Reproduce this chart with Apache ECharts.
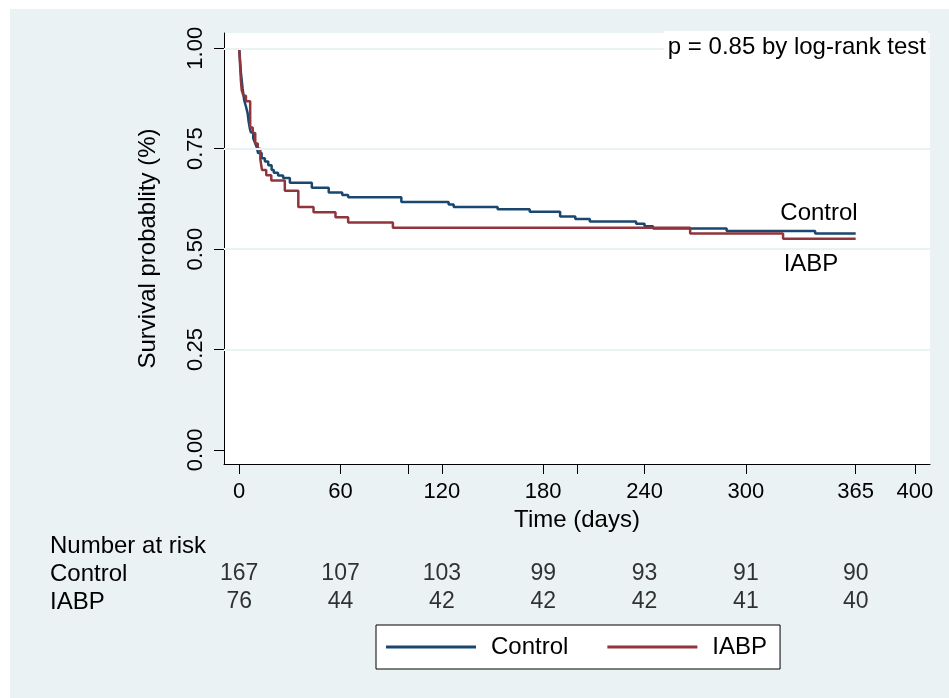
<!DOCTYPE html>
<html>
<head>
<meta charset="utf-8">
<script src="https://cdn.jsdelivr.net/npm/echarts@6/dist/echarts.min.js"></script>
<style>
  html, body { margin: 0; padding: 0; background: #fff; }
  #bg { position: absolute; left: 10px; top: 9px; width: 939px; height: 689px; background: #eaf2f3; }
  #chart { position: absolute; left: 0; top: 0; width: 949px; height: 698px; }
</style>
</head>
<body>
<div id="bg"></div>
<div id="chart"></div>
<script>
// Kaplan-Meier steps (day, survival after the event)
const controlTimes = [0, 0.5, 1, 1.5, 2, 2.5, 3, 4, 5, 5.5, 6.3, 7, 8.3, 9.3, 10.3, 11.2, 13.3, 15.2, 17.2, 19.2, 20.5, 23, 26, 30, 43, 53, 61, 64.5, 96, 124, 127, 153, 172, 190, 199, 207.6, 235, 240, 245, 288.6, 341, 365];
const controlSurv = [1.0, 0.97, 0.94, 0.92, 0.90, 0.885, 0.87, 0.855, 0.838, 0.82, 0.80, 0.79, 0.776, 0.765, 0.755, 0.739, 0.726, 0.718, 0.709, 0.697, 0.69, 0.683, 0.677, 0.665, 0.653, 0.641, 0.635, 0.629, 0.617, 0.611, 0.605, 0.599, 0.593, 0.581, 0.575, 0.569, 0.563, 0.557, 0.551, 0.545, 0.539, 0.539];
const iabpTimes = [0, 0.5, 1, 1.5, 2.5, 4, 6.5, 8, 9.5, 11, 12.5, 13.5, 16, 19, 27, 35, 44, 57, 64.5, 91, 267, 322, 365];
const iabpSurv = [1.0, 0.96, 0.92, 0.895, 0.882, 0.868, 0.803, 0.789, 0.763, 0.75, 0.724, 0.697, 0.684, 0.671, 0.645, 0.605, 0.592, 0.579, 0.566, 0.553, 0.539, 0.526, 0.526];

const riskTimes = [0, 60, 120, 180, 240, 300, 365];
const riskControl = [167, 107, 103, 99, 93, 91, 90];
const riskIabp = [76, 44, 42, 42, 42, 41, 40];
const groups = ['Control', 'IABP'];

const xTicks = [0, 60, 100, 120, 180, 200, 240, 300, 365, 400];
const xLabels = [0, 60, 120, 180, 240, 300, 365, 400];
const yTicks = [0, 0.25, 0.5, 0.75, 1];
const yGrid = [0.25, 0.5, 0.75, 1];

const FONT = '"Liberation Sans", Arial, Helvetica, sans-serif';
const BLUE = '#1a476f';
const RED = '#90353b';

const zip = (a, b) => a.map((v, i) => [v, b[i]]);
const riskData = [];
riskTimes.forEach((t, i) => {
  riskData.push([t, 'Control', riskControl[i]]);
  riskData.push([t, 'IABP', riskIabp[i]]);
});

const chart = echarts.init(document.getElementById('chart'));
chart.setOption({
  backgroundColor: 'transparent',
  animation: false,
  textStyle: { fontFamily: FONT, color: '#000' },
  grid: [
    { left: 224, top: 33, width: 706, height: 431, show: true, backgroundColor: '#fff', borderWidth: 0 },
    { left: 224, top: 560, width: 706, height: 56 }
  ],
  xAxis: [
    {
      type: 'value', gridIndex: 0, min: -9, max: 409,
      axisLine: { show: true, onZero: false, lineStyle: { color: '#000', width: 1 } },
      axisTick: { show: true, customValues: xTicks, length: 10, lineStyle: { color: '#000' } },
      axisLabel: { customValues: xLabels, fontSize: 22, color: '#000', margin: 17, fontFamily: FONT },
      splitLine: { show: false },
      name: 'Time (days)', nameLocation: 'middle', nameGap: 44,
      nameTextStyle: { fontSize: 24, color: '#000', fontFamily: FONT }
    },
    { type: 'value', gridIndex: 1, min: -9, max: 409, show: false }
  ],
  yAxis: [
    {
      type: 'value', gridIndex: 0, min: -0.035, max: 1.038,
      axisLine: { show: true, onZero: false, lineStyle: { color: '#000', width: 1 } },
      axisTick: { show: true, customValues: yTicks, length: 10, lineStyle: { color: '#000' } },
      axisLabel: {
        customValues: yTicks, rotate: 90, fontSize: 22, color: '#000', margin: 17, fontFamily: FONT,
        formatter: v => v.toFixed(2)
      },
      splitLine: { show: false },
      name: 'Survival probablity (%)', nameLocation: 'middle', nameGap: 64, nameRotate: 90,
      nameTextStyle: { fontSize: 24, color: '#000', fontFamily: FONT }
    },
    {
      type: 'category', gridIndex: 1, data: groups, inverse: true,
      axisLine: { show: false }, axisTick: { show: false },
      axisLabel: { interval: 0, align: 'left', margin: 174, fontSize: 24, color: '#000', fontFamily: FONT }
    }
  ],
  legend: {
    data: groups,
    left: 376, top: 625,
    icon: 'rect', itemWidth: 90, itemHeight: 3, itemGap: 39,
    backgroundColor: '#fff', borderColor: '#000', borderWidth: 1, borderRadius: 0,
    padding: [10, 13, 10, 10],
    textStyle: { fontSize: 24, color: '#000', fontFamily: FONT, padding: [0, 0, 0, 10] }
  },
  graphic: [
    { type: 'text', x: 50, y: 546, style: { text: 'Number at risk', fontSize: 24, fontFamily: FONT, fill: '#000', align: 'left', verticalAlign: 'middle' } },
    { type: 'text', x: 928, y: 47, z: 10, style: { text: 'p = 0.85 by log-rank test', fontSize: 24, fontFamily: FONT, fill: '#000', align: 'right', verticalAlign: 'middle', backgroundColor: '#fff', padding: [4, 2, 4, 4] } },
    { type: 'text', x: 819, y: 213, style: { text: 'Control', fontSize: 24, fontFamily: FONT, fill: '#000', align: 'center', verticalAlign: 'middle' } },
    { type: 'text', x: 811, y: 264, style: { text: 'IABP', fontSize: 24, fontFamily: FONT, fill: '#000', align: 'center', verticalAlign: 'middle' } }
  ],
  series: [
    {
      name: 'grid', type: 'line', xAxisIndex: 0, yAxisIndex: 0, data: [], silent: true,
      markLine: {
        silent: true, symbol: 'none', label: { show: false },
        lineStyle: { color: '#eaf2f3', width: 2, type: 'solid' },
        data: yGrid.map(v => ({ yAxis: v }))
      }
    },
    {
      name: 'Control', type: 'line', xAxisIndex: 0, yAxisIndex: 0, step: 'end', showSymbol: false,
      color: BLUE, lineStyle: { color: BLUE, width: 2.5 }, data: zip(controlTimes, controlSurv), z: 3
    },
    {
      name: 'IABP', type: 'line', xAxisIndex: 0, yAxisIndex: 0, step: 'end', showSymbol: false,
      color: RED, lineStyle: { color: RED, width: 2.5 }, data: zip(iabpTimes, iabpSurv), z: 4
    },
    {
      name: 'risk', type: 'scatter', xAxisIndex: 1, yAxisIndex: 1, symbolSize: 0, silent: true,
      data: riskData,
      label: {
        show: true, position: 'inside', fontSize: 23, color: '#000', fontFamily: FONT,
        formatter: p => String(p.value[2])
      }
    }
  ]
});
</script>
</body>
</html>
